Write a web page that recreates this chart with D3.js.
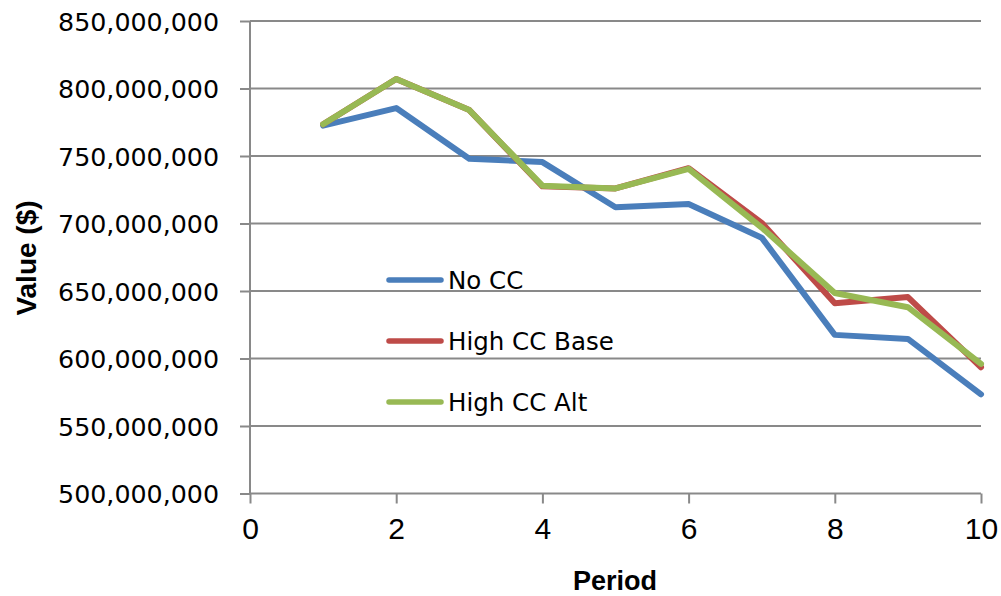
<!DOCTYPE html>
<html><head><meta charset="utf-8">
<script src="https://cdn.jsdelivr.net/npm/d3@7"></script>
<style>html,body{margin:0;padding:0;background:#fff;}svg{display:block;}</style>
</head><body>
<script>
const periods = [1,2,3,4,5,6,7,8,9,10];
const noCC = [772.5e6,785.5e6,748e6,745.5e6,712e6,714.5e6,689.5e6,617.5e6,614.5e6,573.5e6];
const highCCBase = [773.5e6,807e6,784e6,727.5e6,726e6,741e6,700.5e6,641e6,645.5e6,593.5e6];
const highCCAlt = [773.5e6,807e6,784e6,728e6,726e6,740.5e6,697e6,648.5e6,638e6,596e6];
const seriesNames = ["No CC","High CC Base","High CC Alt"];
const seriesColors = ["#4A7EBB","#BE4B48","#98B954"];
const yTicks = [500e6,550e6,600e6,650e6,700e6,750e6,800e6,850e6];
const xTicks = [0,2,4,6,8,10];

const W=1001,H=596;
const svg=d3.select("body").append("svg").attr("width",W).attr("height",H);
const x=d3.scaleLinear().domain([0,10]).range([250,981]);
const y=d3.scaleLinear().domain([500e6,850e6]).range([493.5,21]);
const grid="#898989";

// gridlines
svg.append("g").selectAll("line").data(yTicks.slice(1)).join("line")
 .attr("x1",250).attr("x2",981).attr("y1",d=>y(d)).attr("y2",d=>y(d))
 .attr("stroke",grid).attr("stroke-width",2);

// y axis
const fmt=d3.format(",");
const ya=svg.append("g").attr("transform","translate(250,0)")
 .call(d3.axisLeft(y).tickValues(yTicks).tickFormat(fmt).tickSize(10).tickPadding(21));
ya.select(".domain").attr("stroke",grid).attr("stroke-width",2).attr("d","M0,"+y(850e6)+"V"+y(500e6));
ya.selectAll(".tick line").attr("stroke",grid).attr("stroke-width",2);
ya.selectAll(".tick text").attr("font-family","DejaVu Sans").attr("font-size",25.3).attr("fill","#000").attr("dy","0.36em");

// x axis
const xa=svg.append("g").attr("transform","translate(0,"+y(500e6)+")")
 .call(d3.axisBottom(x).tickValues(xTicks).tickSize(10).tickPadding(14));
xa.select(".domain").attr("stroke",grid).attr("stroke-width",2).attr("d","M250,0H981");
xa.selectAll(".tick line").attr("stroke",grid).attr("stroke-width",2);
xa.selectAll(".tick text").attr("font-family","Liberation Sans").attr("font-size",30).attr("fill","#000").attr("dy","0.71em");

// axis titles
svg.append("text").attr("x",615).attr("y",590).attr("text-anchor","middle")
 .attr("font-family","Liberation Sans").attr("font-weight","bold").attr("font-size",27).text("Period");
svg.append("text").attr("transform","translate(36,258) rotate(-90)").attr("text-anchor","middle")
 .attr("font-family","Liberation Sans").attr("font-weight","bold").attr("font-size",28).text("Value ($)");

// lines
const data=[noCC,highCCBase,highCCAlt];
const line=d3.line().x((d,i)=>x(periods[i])).y(d=>y(d));
svg.append("g").selectAll("path").data(data).join("path")
 .attr("d",line).attr("fill","none").attr("stroke",(d,i)=>seriesColors[i])
 .attr("stroke-width",6).attr("stroke-linejoin","round").attr("stroke-linecap","round");

// legend
const lg=svg.append("g").selectAll("g").data(seriesNames).join("g")
 .attr("transform",(d,i)=>"translate(0,"+(280+i*61)+")");
lg.append("line").attr("x1",389).attr("x2",441).attr("y1",0).attr("y2",0)
 .attr("stroke",(d,i)=>seriesColors[i]).attr("stroke-width",5.5).attr("stroke-linecap","round");
lg.append("text").attr("x",448).attr("y",0).attr("dy","0.36em")
 .attr("font-family","DejaVu Sans").attr("font-size",24.5).attr("fill","#000").text(d=>d);
</script>
</body></html>
